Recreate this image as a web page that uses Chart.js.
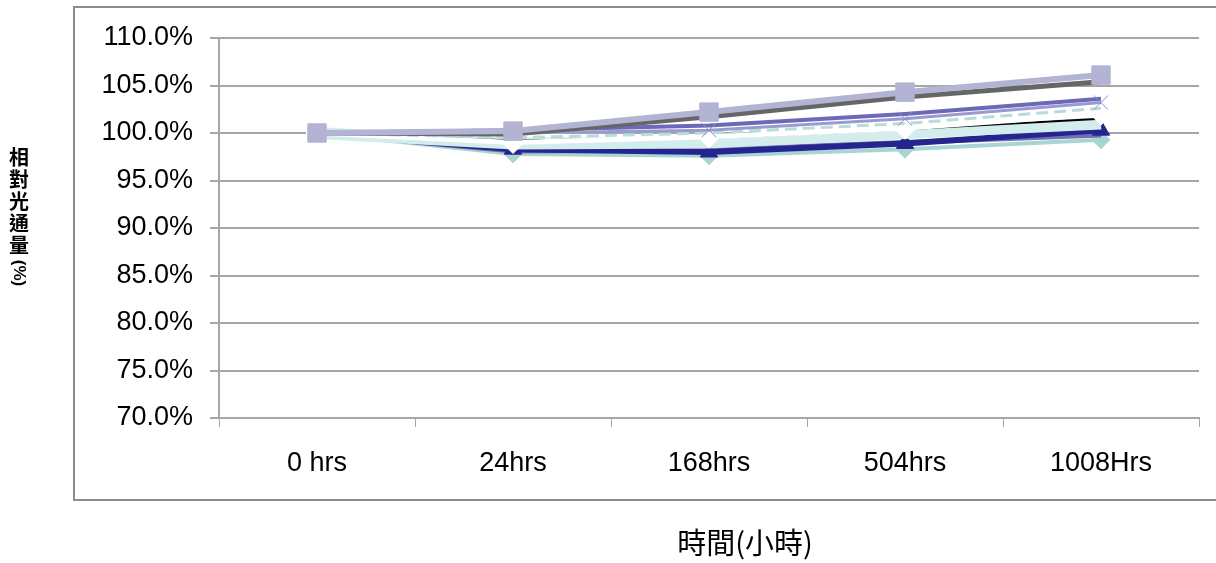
<!DOCTYPE html>
<html>
<head>
<meta charset="utf-8">
<script src="https://cdn.jsdelivr.net/npm/chart.js@4/dist/chart.umd.min.js"></script>
<style>
  html, body { margin: 0; padding: 0; background: #fff; }
  #wrap { position: relative; width: 1216px; height: 563px; }
</style>
</head>
<body>
<div id="wrap"><canvas id="c" width="1216" height="563"></canvas></div>
<script>
var labels = ['0 hrs', '24hrs', '168hrs', '504hrs', '1008Hrs'];

// relative luminous flux, %
var sLavender  = [100, 100.2, 102.2, 104.3, 106.1];
var sDarkGray  = [100, 99.9, 101.7, 103.8, 105.4];
var sBlue      = [100, 100.3, 100.8, 102.0, 103.6];
var sCross     = [100, 100.0, 100.3, 101.5, 103.2];
var sDashed    = [100, 99.5, 100.0, 101.0, 102.6];
var sWhite     = [100, 99.0, 99.6, 100.5, 102.0];
var sBlack     = [100, 99.2, 99.5, 100.4, 101.5];
var sPaleCyan  = [100, 98.9, 99.0, 100.0, 101.0];
var sNavy      = [100, 98.3, 98.0, 98.9, 100.3];
var sPurple    = [100, 98.1, 98.2, 99.0, 99.8];
var sTeal      = [100, 97.8, 97.6, 98.3, 99.3];

var yTicks = [70, 75, 80, 85, 90, 95, 100, 105, 110];

function line(data, color, width, style, radius, fill, extra) {
    var ds = {
        data: data,
        borderColor: color,
        borderWidth: width,
        pointStyle: style || false,
        pointRadius: radius || 0,
        pointBackgroundColor: fill || color,
        pointBorderColor: fill || color,
        pointBorderWidth: 1,
        tension: 0
    };
    for (var k in extra) ds[k] = extra[k];
    return ds;
}

var framePlugin = {
    id: 'frame',
    beforeDraw: function (chart) {
        var ctx = chart.ctx;
        ctx.save();
        ctx.strokeStyle = '#8c8c8c';
        ctx.lineWidth = 2;
        ctx.strokeRect(74, 7, 1160, 493);
        ctx.restore();
    },
    afterDraw: function (chart) {
        var ctx = chart.ctx;
        ctx.save();
        ctx.fillStyle = '#000';
        ctx.font = 'bold 20px "Noto Sans CJK TC"';
        ctx.textAlign = 'center';
        ctx.textBaseline = 'middle';
        var chars = ['相', '對', '光', '通', '量'];
        for (var i = 0; i < chars.length; i++) {
            ctx.fillText(chars[i], 19, 157 + i * 22);
        }
        ctx.translate(19, 273);
        ctx.rotate(Math.PI / 2);
        ctx.font = 'bold 17px "Liberation Sans"';
        ctx.fillText('(%)', 0, 0);
        ctx.restore();

        ctx.save();
        ctx.fillStyle = '#000';
        ctx.font = '29px "Noto Sans CJK TC"';
        ctx.textAlign = 'center';
        ctx.textBaseline = 'middle';
        ctx.fillText('時間(小時)', 745, 543);
        ctx.restore();
    }
};

var ctx = document.getElementById('c').getContext('2d');
new Chart(ctx, {
    type: 'line',
    data: {
        labels: labels,
        datasets: [
            line(sLavender, '#b3b3d4', 6, 'rect', 13, '#b3b3d4'),
            line(sDarkGray, '#666666', 5),
            line(sCross, '#9a9ad0', 3, 'crossRot', 10, '#8f8fcc'),
            line(sBlue, '#6a6ab8', 4),
            line(sDashed, '#b8dcdc', 3, false, 0, null, { borderDash: [12, 6] }),
            line(sWhite, '#ffffff', 5, 'rectRot', 11, '#ffffff'),
            line(sBlack, '#000000', 2),
            line(sPaleCyan, '#d3ecec', 12),
            line(sNavy, '#25258f', 6, 'triangle', 10, '#25258f'),
            line(sPurple, '#7070b0', 5),
            line(sTeal, '#a8d4d4', 4, 'rectRot', 9, '#a8d4d4')
        ]
    },
    options: {
        responsive: false,
        animation: false,
        layout: { padding: { left: 0, right: 17, top: 38, bottom: 0 } },
        plugins: {
            legend: { display: false },
            tooltip: { enabled: false }
        },
        scales: {
            x: {
                offset: true,
                grid: {
                    offset: true,
                    drawOnChartArea: false,
                    drawTicks: true,
                    tickLength: 9,
                    color: '#a6a6a6'
                },
                border: { color: '#a6a6a6', width: 2 },
                ticks: {
                    color: '#000',
                    padding: 20,
                    maxRotation: 0,
                    font: { family: '"Liberation Sans"', size: 27 }
                },
                afterFit: function (scale) { scale.height = 145; }
            },
            y: {
                min: 70,
                max: 110,
                afterBuildTicks: function (scale) {
                    scale.ticks = yTicks.map(function (v) { return { value: v }; });
                },
                grid: {
                    color: '#a6a6a6',
                    lineWidth: 2,
                    tickLength: 9
                },
                border: { color: '#a6a6a6', width: 2 },
                ticks: {
                    color: '#000',
                    padding: 17,
                    font: { family: '"Liberation Sans"', size: 27 },
                    callback: function (v) { return v.toFixed(1) + '%'; }
                },
                afterFit: function (scale) { scale.width = 219; }
            }
        }
    },
    plugins: [framePlugin]
});
</script>
</body>
</html>
